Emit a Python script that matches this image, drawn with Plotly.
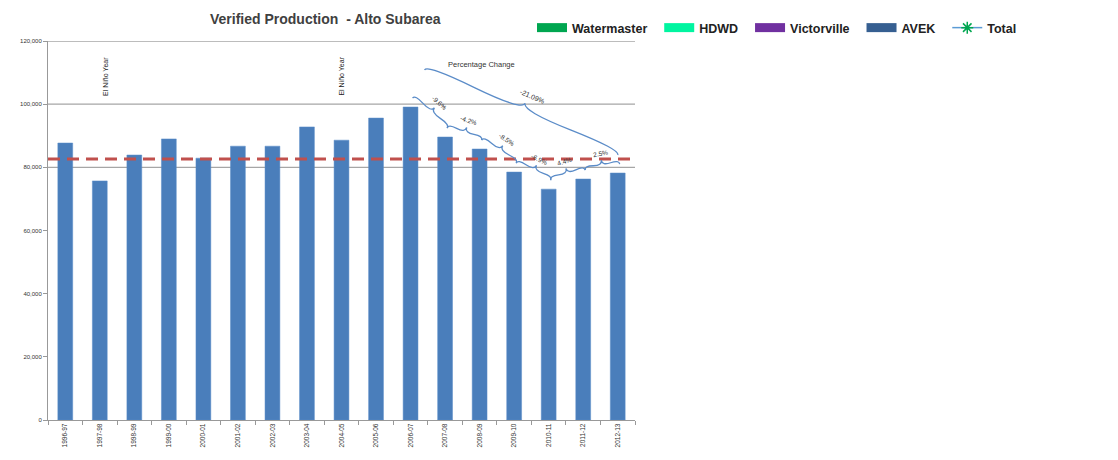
import math
import plotly.graph_objects as go

# ---------------- data ----------------
years = ["1996-97", "1997-98", "1998-99", "1999-00", "2000-01", "2001-02", "2002-03",
         "2003-04", "2004-05", "2005-06", "2006-07", "2007-08", "2008-09", "2009-10",
         "2010-11", "2011-12", "2012-13"]
production = [87700, 75700, 83900, 89000, 82900, 86700, 86700, 92800, 88600, 95600,
              99100, 89600, 85800, 78500, 73100, 76300, 78200]
reference_level = 82600
y_ticks = [0, 20000, 40000, 60000, 80000, 100000, 120000]
grid_values = [80000, 100000, 120000]
legend_names = ["Watermaster", "HDWD", "Victorville", "AVEK"]
legend_colors = ["#00a650", "#00f5a0", "#7030a0", "#365f91"]
note_years = ["1997-98", "2004-05"]
note_text = "El Niño Year"
change_start = "2006-07"

# ---------------- layout geometry ----------------
W, H = 1118, 460
L, R, T, B = 48, 635, 41, 420
PW, PH = R - L, B - T
YMAX = 120000
N = len(years)


def to_px(xd, yd):
    return L + (xd + 0.5) * PW / N, B - yd / YMAX * PH


def to_data(px, py):
    return (px - L) * N / PW - 0.5, (B - py) / PH * YMAX


def brace(p0, p1, w, q=0.6):
    (x0, y0), (x1, y1) = p0, p1
    dx, dy = x1 - x0, y1 - y0
    ln = math.hypot(dx, dy)
    ux, uy = dx / ln, dy / ln
    nx, ny = uy, -ux  # upward normal
    tip = (x0 + 0.5 * dx + nx * w, y0 + 0.5 * dy + ny * w)
    c1 = (x0 + nx * q * w, y0 + ny * q * w)
    e1 = (x0 + 0.25 * dx + nx * (1 - q) * w, y0 + 0.25 * dy + ny * (1 - q) * w)
    c2 = (x1 + nx * q * w, y1 + ny * q * w)
    e2 = (x0 + 0.75 * dx + nx * (1 - q) * w, y0 + 0.75 * dy + ny * (1 - q) * w)

    def f(p):
        a, b = to_data(*p)
        return f"{a:.4f},{b:.1f}"

    path = (f"M {f(p0)} Q {f(c1)} {f(e1)} T {f(tip)} "
            f"M {f(p1)} Q {f(c2)} {f(e2)} T {f(tip)}")
    ang = math.degrees(math.atan2(dy, dx))
    return path, tip, (nx, ny), ang


fig = go.Figure()

fig.add_trace(go.Bar(x=list(range(N)), y=production, width=0.43,
                     marker=dict(color="#4a7ebb", line=dict(color="#5b8cc8", width=0.5)),
                     showlegend=False, hoverinfo="skip"))

for name, col in zip(legend_names, legend_colors):
    fig.add_trace(go.Scatter(x=[None], y=[None], mode="lines", name=name + "  ",
                             line=dict(color=col, width=9)))
fig.add_trace(go.Scatter(x=[None], y=[None], mode="lines+markers", name="Total",
                         line=dict(color="#5b9bd5", width=1.5),
                         marker=dict(symbol="asterisk-open", size=10, color="#00a650",
                                     line=dict(color="#00a650", width=1.5))))

shapes = []
for gv in grid_values:
    shapes.append(dict(type="line", xref="paper", x0=0, x1=1, yref="y", y0=gv, y1=gv,
                       line=dict(color="#a6a6a6", width=1.3), layer="below"))
shapes.append(dict(type="line", xref="paper", x0=0, x1=1, yref="y",
                   y0=reference_level, y1=reference_level,
                   line=dict(color="#c0504d", width=3, dash="12px,7px")))

annotations = []
# title
annotations.append(dict(text="<b>Verified Production  - Alto Subarea</b>", xref="paper",
                        yref="paper", x=(325 - L) / PW, y=(B - 19) / PH, showarrow=False,
                        font=dict(size=14, color="#404040", family="Liberation Sans"),
                        xanchor="center", yanchor="middle"))
for ny_ in note_years:
    i = years.index(ny_)
    annotations.append(dict(text=note_text, x=i + 0.15 if i < 5 else i, y=108900,
                            xref="x", yref="y", showarrow=False, textangle=-90,
                            font=dict(size=7, color="#222"), yanchor="middle"))

annotations.append(dict(text="Percentage Change", xref="paper", yref="paper",
                        x=(517 - L) / PW, y=(B - 58) / PH, showarrow=False,
                        font=dict(size=7.5, color="#333")))

s = years.index(change_start)
for i in range(s, N - 1):
    a = to_px(i, production[i])
    b = to_px(i + 1, production[i + 1])
    p0 = (a[0] + 2, a[1] - 9)
    p1 = (b[0] + 2, b[1] - 9)
    path, tip, (nx, ny), ang = brace(p0, p1, 7)
    shapes.append(dict(type="path", path=path, xref="x", yref="y",
                       line=dict(color="#5b8cc8", width=1.3)))
    pct = (production[i + 1] - production[i]) / production[i] * 100
    lx, ly = to_data(tip[0] + nx * 7, tip[1] + ny * 7)
    annotations.append(dict(text=f"{pct:.1f}%", x=lx, y=ly, xref="x", yref="y",
                            showarrow=False, textangle=ang,
                            font=dict(size=6.5, color="#333")))

a = to_px(s, production[s])
b = to_px(N - 1, production[-1])
path, tip, (nx, ny), ang = brace((a[0] + 14, a[1] - 37), (b[0], b[1] - 18), 10)
shapes.append(dict(type="path", path=path, xref="x", yref="y",
                   line=dict(color="#5b8cc8", width=1.3)))
pct_total = (production[-1] - production[s]) / production[s] * 100
lx, ly = to_data(tip[0] + nx * 7 + 4, tip[1] + ny * 7)
annotations.append(dict(text=f"{pct_total:.2f}%", x=lx, y=ly, xref="x", yref="y",
                        showarrow=False, textangle=ang, font=dict(size=7, color="#333")))

fig.update_layout(
    width=W, height=H,
    margin=dict(l=L, r=W - R, t=T, b=H - B, autoexpand=False),
    paper_bgcolor="white", plot_bgcolor="white",
    font=dict(family="Liberation Sans", color="#333"),
    bargap=0.5,
    xaxis=dict(range=[-0.5, N - 0.5], tickvals=list(range(N)), ticktext=years,
               tickangle=-90, tickfont=dict(size=6.5, color="#333"), ticks="",
               showline=True, linecolor="#999", linewidth=1, showgrid=False,
               zeroline=False, fixedrange=True,
               minor=dict(tickvals=[i + 0.5 for i in range(-1, N)], ticks="outside",
                          ticklen=4, tickcolor="#999", showgrid=False)),
    yaxis=dict(range=[0, YMAX], tickvals=y_ticks, tickformat=",", ticks="outside",
               ticklen=4, tickcolor="#999", tickfont=dict(size=6, color="#333"),
               showline=True, linecolor="#999", linewidth=1, showgrid=False,
               zeroline=False, fixedrange=True),
    legend=dict(orientation="h", x=(532 - L) / PW, y=(B - 28) / PH, xanchor="left",
                yanchor="middle", itemwidth=30,
                font=dict(size=12.5, color="#222", weight="bold"),
                bgcolor="rgba(0,0,0,0)", tracegroupgap=0),
    shapes=shapes, annotations=annotations,
)

fig.write_html("out.html")
